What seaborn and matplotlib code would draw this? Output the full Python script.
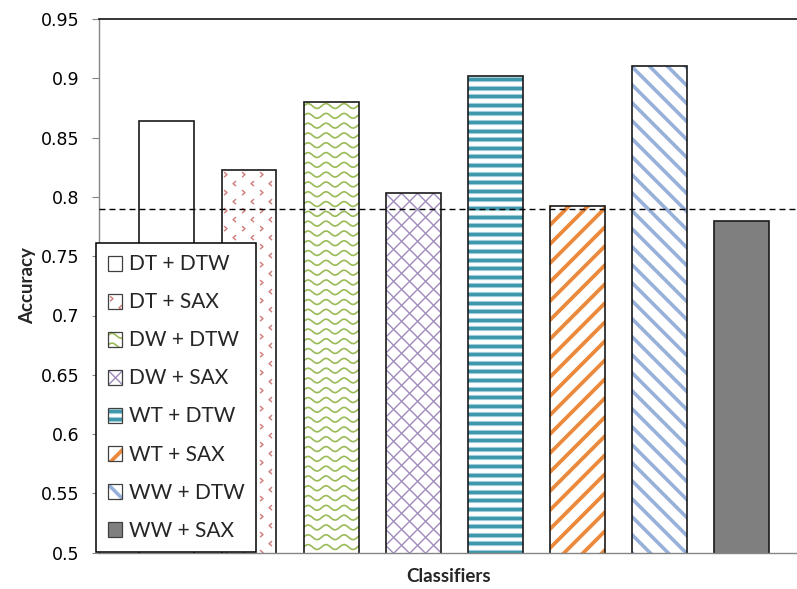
import numpy as np
import matplotlib
matplotlib.use("Agg")
import matplotlib.pyplot as plt
import matplotlib.patches as mpatches
from matplotlib.patches import Rectangle
from matplotlib.collections import LineCollection
from matplotlib.transforms import IdentityTransform, Bbox
from matplotlib.legend_handler import HandlerBase
import seaborn as sns

# ---- data -------------------------------------------------------------
classifiers = ["DT + DTW", "DT + SAX", "DW + DTW", "DW + SAX",
               "WT + DTW", "WT + SAX", "WW + DTW", "WW + SAX"]
accuracy = [0.864, 0.823, 0.880, 0.803, 0.902, 0.792, 0.910, 0.780]
reference_accuracy = 0.79
y_ticks = [0.5, 0.55, 0.6, 0.65, 0.7, 0.75, 0.8, 0.85, 0.9, 0.95]
y_tick_labels = ["0.5", "0.55", "0.6", "0.65", "0.7", "0.75",
                 "0.8", "0.85", "0.9", "0.95"]

# ---- styling ----------------------------------------------------------
face_colors = ["#FFFFFF", "#FFFFFF", "#FFFFFF", "#FFFFFF",
               "#FFFFFF", "#FFFFFF", "#FFFFFF", "#7F7F7F"]
textures = [None, "chevron", "wave", "lattice",
            "hstripe", "diag_up", "diag_down", None]
texture_of = dict(zip(classifiers, textures))
face_of = dict(zip(classifiers, face_colors))

sns.set_style("white")
plt.rcParams["font.family"] = ["Lato", "DejaVu Sans"]


def texture_lines(kind, x0, y0, x1, y1, s=1.0):
    """Fill pattern for a box as (segments, colour, width in px) groups.
    s is the size of one screen pixel in the frame's units."""
    w, h = x1 - x0, y1 - y0
    out = []
    if kind == "wave":
        P, A, pitch = 18 * s, 2.4 * s, 9.8 * s
        xs = np.arange(x0 - 2 * s, x1 + 2 * s, 0.5 * s)
        segs = []
        y = y1 - 4 * s
        while y > y0 - pitch:
            segs.append(np.column_stack([xs, y + A * np.sin(2 * np.pi * (xs - x0) / P)]))
            y -= pitch
        out.append((segs, "#9BBB59", 1.7))
    elif kind == "chevron":
        px, py = 18 * s, 9 * s
        segs = []
        j = 0
        y = y1 - 5 * s
        while y > y0 - py:
            right = (j % 2 == 0)
            x = x0 + (4 * s if right else 13 * s)
            while x < x1 + px:
                d = 1.5 * s if right else -1.5 * s
                segs.append([(x - d, y + 2.5 * s), (x + d, y), (x - d, y - 2.5 * s)])
                x += px
            y -= py
            j += 1
        out.append((segs, "#D07C7A", 1.4))
    elif kind in ("lattice", "diag_up", "diag_down"):
        P = {"lattice": 16, "diag_up": 19, "diag_down": 18}[kind] * s
        L = w + h + 2 * P
        n = int(np.ceil(L / P)) + 2
        slopes = {"lattice": (1, -1), "diag_up": (1,), "diag_down": (-1,)}[kind]
        segs = []
        for m in slopes:
            for k in range(-n, n + 1):
                xa = x0 + k * P
                segs.append([(xa - L, y1 - m * L), (xa + L, y1 + m * L)])
        color, lw = {"lattice": ("#9F8BBD", 1.4),
                     "diag_up": ("#EB8A3C", 3.8),
                     "diag_down": ("#97B1DA", 3.6)}[kind]
        out.append((segs, color, lw))
    elif kind == "hstripe":
        pitch = 8.6 * s
        segs = []
        y = y1 - 3 * s
        while y > y0 - pitch:
            segs.append([(x0 - 2 * s, y), (x1 + 2 * s, y)])
            y -= pitch
        out.append((segs, "#A8D4DF", 5.2))
        out.append((segs, "#3F97AB", 3.2))
    return out


class TextureHandler(HandlerBase):
    """Legend swatch: small square with the bar's fill pattern."""

    def create_artists(self, legend, orig_handle, xdescent, ydescent,
                       width, height, fontsize, trans):
        side = min(width, height)
        x0 = -xdescent + (width - side) / 2
        y0 = -ydescent + (height - side) / 2
        label = orig_handle.get_label()
        face = Rectangle((x0, y0), side, side, facecolor=face_of[label],
                         edgecolor="none", transform=trans)
        artists = [face]
        kind = texture_of[label]
        if kind:
            for segs, color, lw in texture_lines(kind, x0, y0, x0 + side,
                                                 y0 + side, s=0.72):
                lc = LineCollection(segs, colors=color, linewidths=lw * 0.72,
                                    transform=trans)
                lc.set_clip_path(face)
                artists.append(lc)
        border = Rectangle((x0, y0), side, side, fill=False,
                           edgecolor="#404040", linewidth=0.9, transform=trans)
        artists.append(border)
        return artists


# ---- figure -----------------------------------------------------------
W_PX, H_PX = 797, 589
fig = plt.figure(figsize=(W_PX / 100, H_PX / 100), dpi=100)
ax_left, ax_right, ax_top, ax_bottom = 99.3, 797, 19, 552.7
ax = fig.add_axes([ax_left / W_PX, 1 - ax_bottom / H_PX,
                   (ax_right - ax_left) / W_PX, (ax_bottom - ax_top) / H_PX])

sns.barplot(x=classifiers, y=accuracy, hue=classifiers, palette=face_colors,
            order=classifiers, hue_order=classifiers, width=0.67,
            saturation=1, linewidth=0, edgecolor="none", legend=False,
            errorbar=None, ax=ax)

ax.set_xticks([])
ax.set_xlim(-0.825, 7.68)
ax.set_ylim(0.5, 0.95)
ax.set_yticks(y_ticks, labels=y_tick_labels)

bars = sorted(ax.patches, key=lambda p: p.get_x())
ax_bb = ax.bbox
for bar, kind in zip(bars, textures):
    bb = bar.get_window_extent()
    x0, x1 = bb.x0, bb.x1
    y0, y1 = max(bb.y0, ax_bb.y0), min(bb.y1, ax_bb.y1)
    if kind:
        for segs, color, lw in texture_lines(kind, x0, y0, x1, y1):
            lc = LineCollection(segs, colors=color, linewidths=lw * 0.72,
                                transform=IdentityTransform(), zorder=1.5)
            ax.add_collection(lc, autolim=False)
            # keep the pattern inside its own bar
            lc.set_clip_path(None)
            lc.set_clip_box(Bbox.from_extents(x0, y0, x1, y1))
    ax.add_patch(Rectangle((bar.get_x(), bar.get_y()), bar.get_width(),
                           bar.get_height(), fill=False, edgecolor="#1A1A1A",
                           linewidth=1.2, zorder=2))

ax.axhline(reference_accuracy, color="black", linewidth=1.0,
           linestyle=(0, (4.3, 2.9)), zorder=3)

# axes frame and ticks
for side in ("left", "bottom"):
    ax.spines[side].set_color("#868686")
    ax.spines[side].set_linewidth(1.0)
ax.spines["top"].set_color("black")
ax.spines["top"].set_linewidth(1.1)
ax.spines["right"].set_visible(False)
ax.tick_params(axis="y", direction="out", length=5, width=0.8,
               color="#868686", pad=9, labelsize=12.5, labelcolor="black",
               left=True)
for lbl in ax.get_yticklabels():
    lbl.set_fontfamily(["DejaVu Sans"])

ax.set_ylabel("Accuracy", fontsize=13.5, fontweight="bold")
ax.set_xlabel("Classifiers", fontsize=13.5, fontweight="bold")
ax.yaxis.set_label_coords(-0.0907, 0.5)
ax.xaxis.set_label_coords(0.5, -0.0287)

handles = [mpatches.Patch(facecolor=c, label=n)
           for n, c in zip(classifiers, face_colors)]
leg = ax.legend(handles=handles, handler_map={mpatches.Patch: TextureHandler()},
                loc="lower left", bbox_to_anchor=(96 / W_PX, 1 - 552 / H_PX),
                bbox_transform=fig.transFigure, borderaxespad=0,
                fontsize=15, frameon=True, fancybox=False, framealpha=1,
                edgecolor="black", handlelength=0.72, handleheight=0.72,
                handletextpad=0.32, labelspacing=0.865, borderpad=0.55)
leg.get_frame().set_linewidth(1.1)

fig.savefig("out.png", dpi=100)
